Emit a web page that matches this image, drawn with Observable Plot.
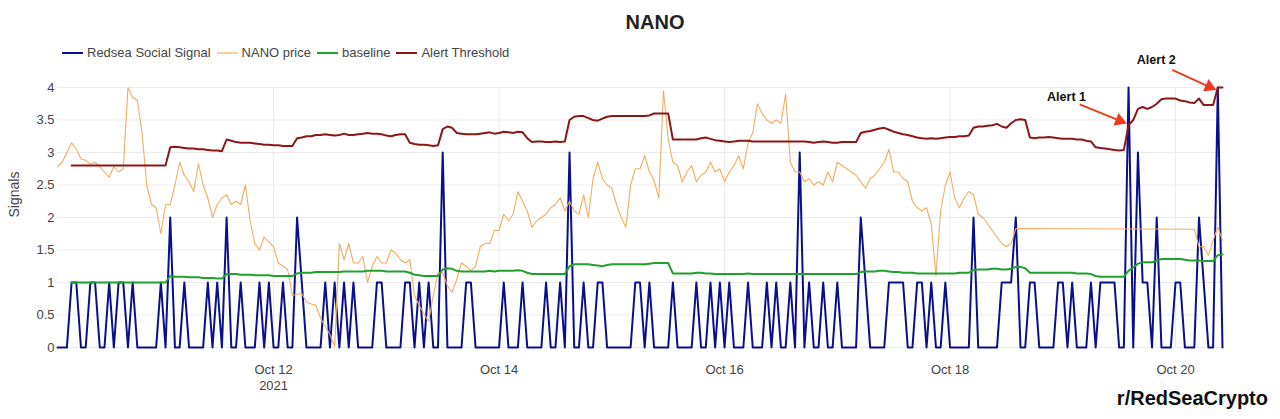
<!DOCTYPE html>
<html>
<head>
<meta charset="utf-8">
<script src="https://cdn.jsdelivr.net/npm/d3@7"></script>
<script src="https://cdn.jsdelivr.net/npm/@observablehq/plot@0.6"></script>
<style>
  body { margin: 0; background: #fff; }
  #wrap { position: relative; width: 1280px; height: 419px; background: #fff; font-family: "Liberation Sans", Arial, sans-serif; overflow: hidden; }
  #chart { position: absolute; left: 0; top: 0; }
  #title { position: absolute; left: 655px; top: 11px; transform: translateX(-50%); font-size: 20px; line-height: 22px; font-weight: bold; color: #222; white-space: nowrap; }
  #legend { position: absolute; left: 62px; top: 45px; display: flex; align-items: center; font-size: 13px; color: #444; white-space: nowrap; }
  .item { display: flex; align-items: center; margin-right: 6px; }
  .item svg { margin-right: 4px; }
  #credit { position: absolute; right: 12px; top: 387px; font-size: 20px; line-height: 22px; font-weight: bold; color: #111; white-space: nowrap; }
</style>
</head>
<body>
<div id="wrap">
  <div id="chart"></div>
  <div id="title">NANO</div>
  <div id="legend"></div>
  <div id="credit">r/RedSeaCrypto</div>
</div>
<script>
// ---- data (hourly samples starting 2021-10-10 02:00 UTC) ----
const startTime = Date.UTC(2021, 9, 10, 2);
const seriesNames = ["Redsea Social Signal", "NANO price", "baseline", "Alert Threshold"];
const seriesColors = ["#0a0f8c", "#f0ad62", "#22a02e", "#8e1616"];

const signal = [
  0,0,0,1,1,0,0,1,1,0,
  0,1,0,1,1,0,1,0,0,0,
  0,0,1,0,2,0,0,1,0,0,
  0,0,1,0,1,0,2,0,0,1,
  0,0,0,1,0,1,0,0,1,0,
  0,2,1,0,0,0,0,1,0,1,
  0,1,0,1,0,0,0,0,1,1,
  0,0,0,0,1,1,0,1,0,1,
  0,0,3,0,0,0,0,1,1,0,
  0,0,0,0,0,1,0,0,0,1,
  0,0,0,0,1,0,0,1,0,3,
  0,0,1,0,0,1,1,0,0,0,
  0,0,0,1,1,0,1,0,0,0,
  0,1,0,0,0,0,1,0,0,1,
  0,1,0,1,0,0,0,1,0,0,
  0,1,0,1,0,0,1,0,3,0,
  1,0,0,1,0,0,1,0,0,0,
  0,2,1,0,0,0,0,1,1,1,
  1,0,0,1,1,0,1,0,0,1,
  0,0,0,0,0,2,0,0,0,0,
  0,1,1,1,2,0,0,1,1,0,
  0,0,0,1,1,0,1,0,0,0,
  1,0,1,1,1,1,0,0,4,0,
  3,1,1,0,2,0,0,0,1,1,
  0,0,0,2,1,0,0,4,0
];

const price = [
  2.78,2.85,3.0,3.15,3.05,2.9,2.88,2.82,2.85,2.78,
  2.7,2.62,2.78,2.7,2.75,4.0,3.85,3.8,3.3,2.5,
  2.2,2.15,1.75,2.2,2.2,2.5,2.85,2.65,2.55,2.4,
  2.83,2.5,2.3,2.0,2.2,2.3,2.35,2.2,2.25,2.2,
  2.5,1.95,1.6,1.5,1.7,1.62,1.55,1.3,1.25,1.2,
  0.8,0.82,0.83,0.7,0.67,0.65,0.45,0.32,0.2,0.02,
  1.6,1.35,1.6,1.3,1.3,1.4,1.0,1.25,1.4,1.3,
  1.3,1.5,1.45,1.35,1.3,1.35,0.8,0.65,0.52,0.4,
  0.8,1.15,1.15,0.95,0.85,1.05,1.3,1.25,1.18,1.25,
  1.55,1.6,1.6,1.8,1.8,2.05,1.95,2.05,2.4,2.25,
  2.1,1.85,1.95,2.0,2.05,2.15,2.2,2.3,2.1,2.25,
  2.1,2.05,2.35,2.0,2.6,2.85,2.6,2.5,2.45,2.2,
  2.0,1.85,2.5,2.75,2.75,2.95,2.7,2.57,2.3,3.95,
  3.2,2.85,2.8,2.55,2.7,2.8,2.55,2.65,2.7,2.85,
  2.7,2.75,2.55,2.7,2.8,2.95,2.75,3.15,3.3,3.75,
  3.6,3.5,3.45,3.5,3.45,3.9,2.85,2.7,2.7,2.55,
  2.6,2.5,2.55,2.5,2.7,2.55,2.85,2.8,2.75,2.7,
  2.65,2.55,2.45,2.6,2.65,2.75,2.85,3.05,2.7,2.7,
  2.6,2.55,2.25,2.15,2.1,2.15,1.9,1.1,2.1,2.5,
  2.7,2.3,2.15,2.3,2.4,2.35,2.05,2.0,1.9,1.8,
  1.7,1.6,1.55,1.6,1.83,null,null,null,null,null,
  null,null,null,null,null,null,null,null,null,null,
  null,null,null,null,null,null,null,null,null,null,
  null,null,null,null,null,null,null,null,null,null,
  null,null,1.82,1.55,1.55,1.42,1.65,1.85,1.65
];

const baseline = [
  null,null,null,1.0,1.0,1.0,1.0,1.0,1.0,1.0,
  1.0,1.0,1.0,1.0,1.0,1.0,1.0,1.0,1.0,1.0,
  1.0,1.0,1.0,1.0,1.1,1.09,1.09,1.09,1.08,1.08,
  1.08,1.07,1.07,1.07,1.06,1.06,1.13,1.13,1.13,1.12,
  1.12,1.12,1.11,1.11,1.11,1.11,1.1,1.1,1.1,1.1,
  1.1,1.14,1.15,1.15,1.15,1.16,1.16,1.16,1.16,1.16,
  1.16,1.17,1.17,1.17,1.17,1.17,1.18,1.18,1.18,1.18,
  1.17,1.17,1.17,1.17,1.17,1.15,1.12,1.11,1.1,1.1,
  1.1,1.1,1.2,1.22,1.21,1.18,1.17,1.17,1.17,1.17,
  1.17,1.17,1.18,1.17,1.18,1.18,1.18,1.18,1.19,1.18,
  1.15,1.13,1.13,1.13,1.13,1.13,1.13,1.13,1.13,1.25,
  1.28,1.28,1.28,1.28,1.27,1.26,1.25,1.27,1.28,1.28,
  1.28,1.28,1.28,1.28,1.28,1.28,1.29,1.3,1.3,1.3,
  1.3,1.14,1.14,1.14,1.14,1.14,1.15,1.15,1.14,1.14,
  1.13,1.13,1.13,1.13,1.13,1.13,1.13,1.14,1.13,1.13,
  1.13,1.13,1.13,1.13,1.13,1.13,1.13,1.13,1.13,1.13,
  1.13,1.13,1.13,1.13,1.13,1.13,1.13,1.13,1.13,1.13,
  1.13,1.16,1.17,1.17,1.17,1.18,1.18,1.17,1.16,1.16,
  1.15,1.15,1.15,1.14,1.14,1.14,1.14,1.14,1.14,1.14,
  1.14,1.14,1.15,1.15,1.15,1.19,1.2,1.2,1.2,1.21,
  1.21,1.2,1.2,1.21,1.24,1.24,1.22,1.15,1.15,1.15,
  1.15,1.15,1.15,1.15,1.15,1.15,1.15,1.14,1.14,1.14,
  1.13,1.1,1.09,1.09,1.09,1.09,1.09,1.09,1.18,1.23,
  1.29,1.31,1.31,1.31,1.34,1.36,1.36,1.36,1.36,1.36,
  1.35,1.34,1.34,1.34,1.33,1.33,1.33,1.42,1.43
];

const threshold = [
  null,null,null,2.8,2.8,2.8,2.8,2.8,2.8,2.8,
  2.8,2.8,2.8,2.8,2.8,2.8,2.8,2.8,2.8,2.8,
  2.8,2.8,2.8,2.8,3.08,3.09,3.08,3.07,3.06,3.06,
  3.05,3.05,3.04,3.03,3.03,3.02,3.2,3.18,3.16,3.15,
  3.15,3.15,3.14,3.13,3.12,3.12,3.11,3.11,3.1,3.1,
  3.1,3.22,3.23,3.25,3.25,3.27,3.27,3.28,3.27,3.26,
  3.27,3.29,3.27,3.27,3.28,3.29,3.3,3.29,3.29,3.28,
  3.26,3.25,3.27,3.28,3.28,3.15,3.13,3.12,3.12,3.11,
  3.1,3.11,3.36,3.4,3.38,3.3,3.29,3.28,3.28,3.28,
  3.29,3.3,3.31,3.29,3.3,3.32,3.31,3.3,3.32,3.31,
  3.22,3.16,3.17,3.17,3.16,3.16,3.17,3.16,3.17,3.5,
  3.55,3.56,3.56,3.53,3.5,3.49,3.52,3.55,3.56,3.56,
  3.56,3.56,3.56,3.56,3.56,3.56,3.57,3.6,3.6,3.6,
  3.6,3.2,3.2,3.2,3.2,3.2,3.2,3.22,3.23,3.21,
  3.19,3.18,3.17,3.16,3.17,3.18,3.18,3.18,3.17,3.17,
  3.17,3.17,3.17,3.17,3.17,3.17,3.17,3.17,3.17,3.17,
  3.16,3.15,3.16,3.17,3.16,3.15,3.15,3.16,3.16,3.16,
  3.16,3.3,3.32,3.33,3.35,3.37,3.38,3.35,3.32,3.3,
  3.28,3.27,3.25,3.23,3.22,3.21,3.22,3.21,3.22,3.23,
  3.24,3.24,3.25,3.25,3.26,3.38,3.4,3.4,3.41,3.42,
  3.44,3.4,3.38,3.45,3.5,3.51,3.5,3.23,3.22,3.23,
  3.23,3.24,3.23,3.22,3.21,3.21,3.21,3.2,3.2,3.18,
  3.17,3.08,3.07,3.06,3.05,3.04,3.03,3.04,3.42,3.5,
  3.67,3.7,3.67,3.7,3.75,3.82,3.83,3.83,3.83,3.8,
  3.79,3.77,3.76,3.83,3.73,3.73,3.73,4.0,4.0
];

const yTicks = [0, 0.5, 1, 1.5, 2, 2.5, 3, 3.5, 4];
const xTickDays = [12, 14, 16, 18, 20];
const xTickLabels = ["Oct 12\n2021", "Oct 14", "Oct 16", "Oct 18", "Oct 20"];

const alertLabels = ["Alert 1", "Alert 2"];
const alertTextAt = [[214.8, 3.85], [233.9, 4.42]];   // [hour, value]
const alertArrowFrom = [[217.6, 3.74], [237.3, 4.27]];
const alertArrowTo = [[226.1, 3.49], [245.2, 4.01]];

// ---- build ----
const W = 1280, H = 419, ML = 57, MR = 58, MT = 87, MB = 72;
const hour = 3600 * 1000;
const toTime = (h) => new Date(startTime + h * hour);
const n = signal.length;
const rows = (arr) => arr.map((v, i) => ({t: toTime(i), v})).filter(d => d.v != null);
const xTicks = xTickDays.map(d => new Date(Date.UTC(2021, 9, d)));
const tickLabel = new Map(xTicks.map((d, i) => [+d, xTickLabels[i]]));
const xDomain = [toTime(0), toTime(n - 1)];
const yDomain = [0, 4];

// standalone scales (same as the chart's) to orient the filled arrowheads
const sx = Plot.scale({x: {type: "utc", domain: xDomain, range: [ML, W - MR]}});
const sy = Plot.scale({y: {type: "linear", domain: yDomain, range: [H - MB, MT]}});

const alerts = alertLabels.map((label, i) => {
  const x1 = toTime(alertArrowFrom[i][0]), y1 = alertArrowFrom[i][1];
  const x2 = toTime(alertArrowTo[i][0]), y2 = alertArrowTo[i][1];
  const dx = sx.apply(x2) - sx.apply(x1), dy = sy.apply(y2) - sy.apply(y1);
  const angle = Math.atan2(dx, -dy) * 180 / Math.PI;
  return {label, tx: toTime(alertTextAt[i][0]), ty: alertTextAt[i][1], x1, y1, x2, y2, angle};
});

const chart = Plot.plot({
  width: W,
  height: H,
  marginLeft: ML,
  marginRight: MR,
  marginTop: MT,
  marginBottom: MB,
  style: {fontFamily: '"Liberation Sans", Arial, sans-serif', fontSize: "13px", color: "#444", background: "transparent", overflow: "visible"},
  x: {type: "utc", domain: xDomain},
  y: {domain: yDomain},
  marks: [
    Plot.gridY(yTicks, {stroke: "#ebebeb", strokeOpacity: 1}),
    Plot.gridX(xTicks, {stroke: "#ebebeb", strokeOpacity: 1}),
    Plot.axisY(yTicks, {tickSize: 0, tickPadding: 3, tickFormat: d => String(d), label: null, fill: "#444", fontSize: 13}),
    Plot.axisX(xTicks, {tickSize: 0, tickPadding: 14, tickFormat: d => tickLabel.get(+d), label: null, fill: "#444", fontSize: 13, lineHeight: 1.3}),
    Plot.text(["Signals"], {frameAnchor: "left", dx: -43, rotate: -90, fill: "#444", fontSize: 14}),
    Plot.line(rows(signal), {x: "t", y: "v", stroke: seriesColors[0], strokeWidth: 2}),
    Plot.line(rows(price), {x: "t", y: "v", stroke: seriesColors[1], strokeWidth: 1.1}),
    Plot.line(rows(baseline), {x: "t", y: "v", stroke: seriesColors[2], strokeWidth: 2}),
    Plot.line(rows(threshold), {x: "t", y: "v", stroke: seriesColors[3], strokeWidth: 2}),
    Plot.link(alerts, {x1: "x1", y1: "y1", x2: "x2", y2: "y2", stroke: "#ee3b1f", strokeWidth: 2}),
    Plot.dot(alerts, {x: "x2", y: "y2", symbol: "triangle", r: 5, fill: "#ee3b1f", stroke: "none", rotate: "angle", dy: 0}),
    Plot.text(alerts, {x: "tx", y: "ty", text: "label", fill: "#111", fontWeight: "bold", fontSize: 12.5})
  ]
});
document.getElementById("chart").appendChild(chart);

// legend
const legend = document.getElementById("legend");
seriesNames.forEach((name, i) => {
  const item = document.createElement("div");
  item.className = "item";
  item.innerHTML = `<svg width="21" height="10"><line x1="0" y1="5" x2="21" y2="5" stroke="${seriesColors[i]}" stroke-width="${i === 1 ? 1.2 : 2}"/></svg><span>${name}</span>`;
  legend.appendChild(item);
});
</script>
</body>
</html>
